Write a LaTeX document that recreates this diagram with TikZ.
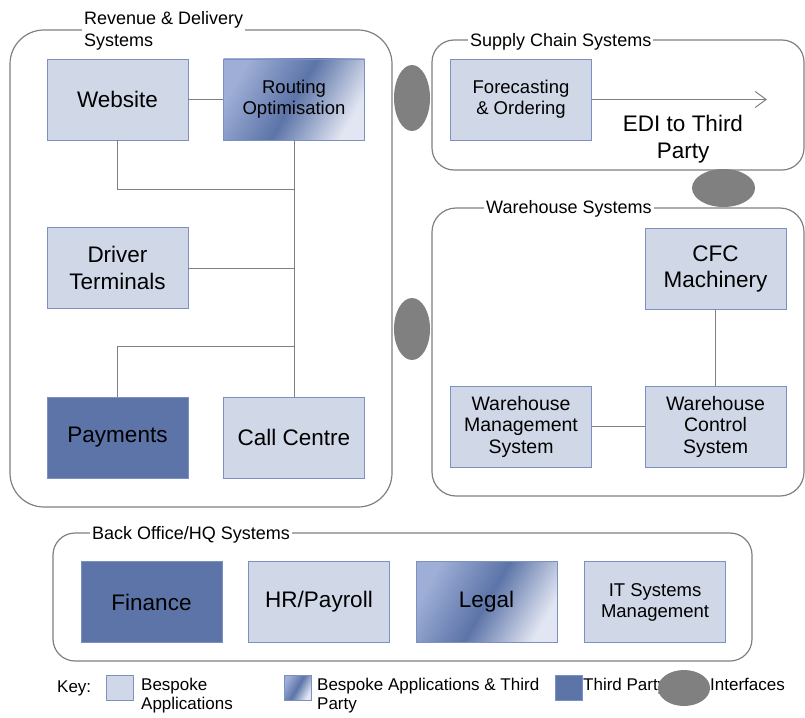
\documentclass[tikz,border=0pt]{standalone}
\usepackage{fontspec}
\setmainfont{Liberation Sans}
\usepackage{tikz}
\usetikzlibrary{arrows.meta, positioning, shapes.geometric}
\definecolor{appfill}{RGB}{208,216,232}
\definecolor{appedge}{RGB}{124,144,196}
\definecolor{tpfill}{RGB}{92,116,168}
\definecolor{mixlight}{RGB}{158,174,214}
\definecolor{mixend}{RGB}{226,230,242}
\definecolor{sysgray}{RGB}{128,128,128}
\definecolor{ifgray}{RGB}{128,128,128}
\tikzset{
  appbox/.style={rectangle, draw=appedge, line width=0.9pt,
    minimum width=141pt, minimum height=81pt, align=center, inner sep=1pt},
  bespoke/.style={appbox, fill=appfill},
  mixed/.style={appbox, left color=mixlight, right color=mixend,
    middle color=tpfill, shading angle=60},
  thirdparty/.style={appbox, fill=tpfill},
  bigtext/.style={font=\fontsize{22.5}{26.5}\selectfont},
  midtext/.style={font=\fontsize{18.5}{21}\selectfont},
  whtext/.style={font=\fontsize{19.5}{21.5}\selectfont},
  sysbox/.style={rectangle, draw=sysgray, line width=1.2pt, fill=none},
  systitle/.style={fill=white, inner sep=2pt, anchor=west, align=left,
    font=\fontsize{18}{22}\selectfont},
  iface/.style={ellipse, fill=ifgray, draw=none, inner sep=0pt},
  link/.style={line width=1pt, color=sysgray},
  keybox/.style={rectangle, draw=appedge, line width=0.8pt,
    minimum width=27pt, minimum height=25pt, inner sep=0pt},
  keytext/.style={anchor=west, align=left, inner sep=1pt,
    font=\fontsize{17}{19}\selectfont}
}
\begin{document}
\begin{tikzpicture}[x=1pt, y=-1pt]
  \useasboundingbox (0,0) rectangle (805,717);

  % System groups
  \node[sysbox, rounded corners=34pt, minimum width=382pt, minimum height=477pt] (rev) at (201,268.5) {};
  \node[sysbox, rounded corners=22pt, minimum width=372pt, minimum height=130pt] (supply) at (618,105) {};
  \node[sysbox, rounded corners=24pt, minimum width=372pt, minimum height=288pt] (wh) at (618,352) {};
  \node[sysbox, rounded corners=22pt, minimum width=699pt, minimum height=128pt] (back) at (402.5,597) {};

  \node[systitle] (revtitle) at (82,31) {Revenue \& Delivery\\Systems};
  \node[systitle] (supplytitle) at (468,42) {Supply Chain Systems};
  \node[systitle] (whtitle) at (484,209) {Warehouse Systems};
  \node[systitle] (backtitle) at (90,535) {Back Office/HQ Systems};

  % Revenue & Delivery
  \node[bespoke, bigtext] (web) at (117.5,99.5) {Website};
  \node[mixed, midtext] (route) at (294,99.5) {Routing\\Optimisation};
  \node[bespoke, bigtext] (drv) at (117.5,268) {Driver\\Terminals};
  \node[thirdparty, bigtext] (pay) at (117.5,437.5) {Payments};
  \node[bespoke, bigtext] (call) at (294,437.5) {Call Centre};

  \coordinate (busweb) at (294,189);
  \coordinate (buspay) at (294,346);
  \draw[link] (web) -- (route);
  \draw[link] (route) -- (call);
  \draw[link] (web.south) |- (busweb);
  \draw[link] (drv.east) -- (drv.east -| route.south);
  \draw[link] (pay.north) |- (buspay);

  % Supply chain
  \node[bespoke, midtext] (fc) at (521,99.5) {Forecasting\\\& Ordering};
  \coordinate (edi) at (767,99.5);
  \draw[link, -{Straight Barb[length=11pt, width=16pt, line width=1pt]}] (fc.east) -- (edi);
  \node[bigtext, align=center] (editext) at (683,139) {EDI to Third\\Party};

  % Warehouse
  \node[bespoke, bigtext] (cfc) at (715.5,269) {CFC\\Machinery};
  \node[bespoke, whtext] (wms) at (521,426.5) {Warehouse\\Management\\System};
  \node[bespoke, whtext] (wcs) at (715.5,426.5) {Warehouse\\Control\\System};
  \draw[link] (cfc) -- (wcs);
  \draw[link] (wms) -- (wcs);

  % Back office
  \node[thirdparty, bigtext] (fin) at (151.5,602) {Finance};
  \node[bespoke, bigtext] (hr) at (319,602) {HR/Payroll};
  \node[mixed, bigtext] (legal) at (486.5,602) {Legal};
  \node[bespoke, midtext] (itsm) at (655,602) {IT Systems\\Management};

  % Interfaces
  \node[iface, minimum width=36pt, minimum height=66pt] (ifa) at (412,98) {};
  \node[iface, minimum width=36pt, minimum height=62pt] (ifb) at (412,329) {};
  \node[iface, minimum width=63pt, minimum height=38pt] (ifc) at (723.5,188) {};

  % Key
  \node[keytext] (key) at (56,688) {Key:};
  \node[keybox, fill=appfill] (keyapp) at (119.5,687.5) {};
  \node[keytext, anchor=north west] (keyapptext) at (140,677) {Bespoke\\Applications};
  \node[keybox, left color=mixlight, right color=mixend, middle color=tpfill, shading angle=60] (keymix) at (297.5,687.5) {};
  \node[keytext, anchor=north west] (keymixtext) at (316,677) {Bespoke Applications \& Third\\Party};
  \node[keybox, fill=tpfill] (keytp) at (568.5,687.5) {};
  \node[keytext, anchor=north west] (keytptext) at (582,677) {Third Party};
  \node[iface, minimum width=52pt, minimum height=36pt] (keyif) at (684,688) {};
  \node[keytext, anchor=north west] (keyiftext) at (709,677) {Interfaces};
\end{tikzpicture}
\end{document}
